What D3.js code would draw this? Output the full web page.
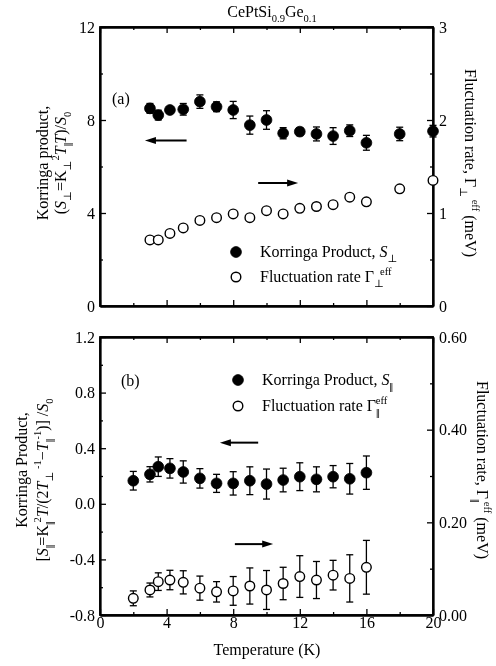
<!DOCTYPE html>
<html>
<head>
<meta charset="utf-8">
<script src="https://cdn.jsdelivr.net/npm/d3@7"></script>
<style>
  html, body { margin: 0; padding: 0; background: #fff; }
  svg { will-change: transform; -webkit-font-smoothing: antialiased; }
  svg text { font-family: "Liberation Serif", "DejaVu Serif", serif; fill: #000; }
</style>
</head>
<body>
<svg id="chart" width="496" height="666"></svg>
<script>
// Temperatures (K)
const tempA = [3, 3.5, 4.2, 5, 6, 7, 8, 9, 10, 11, 12, 13, 14, 15, 16, 18, 20];
const tempB = [2, 3, 3.5, 4.2, 5, 6, 7, 8, 9, 10, 11, 12, 13, 14, 15, 16];

// Panel (a): perpendicular Korringa product and fluctuation rate
const korringaPerp = [8.50, 8.21, 8.43, 8.46, 8.79, 8.57, 8.43, 7.78, 8.00, 7.43, 7.50, 7.40, 7.31, 7.54, 7.02, 7.40, 7.52];
const korringaPerpErr = [0.21, 0.21, 0.12, 0.25, 0.29, 0.21, 0.37, 0.39, 0.40, 0.24, 0.17, 0.30, 0.36, 0.25, 0.32, 0.29, 0.25];
const gammaPerp = [0.71, 0.71, 0.78, 0.84, 0.92, 0.95, 0.99, 0.95, 1.025, 0.99, 1.05, 1.07, 1.09, 1.17, 1.12, 1.26, 1.35];

// Panel (b): parallel Korringa product and fluctuation rate
const korringaPar = [0.166, 0.212, 0.267, 0.255, 0.229, 0.183, 0.147, 0.147, 0.166, 0.142, 0.171, 0.195, 0.176, 0.195, 0.180, 0.224];
const korringaParErr = [0.067, 0.055, 0.07, 0.07, 0.08, 0.07, 0.065, 0.084, 0.10, 0.108, 0.085, 0.10, 0.09, 0.08, 0.11, 0.12];
const gammaPar = [0.036, 0.054, 0.072, 0.0755, 0.0705, 0.058, 0.050, 0.052, 0.0626, 0.054, 0.068, 0.083, 0.0755, 0.086, 0.079, 0.103];
const gammaParErr = [0.016, 0.015, 0.019, 0.021, 0.025, 0.026, 0.022, 0.031, 0.039, 0.042, 0.035, 0.045, 0.040, 0.032, 0.051, 0.058];

// Tick values
const xMajor = [0, 4, 8, 12, 16, 20];
const xMinor = [2, 6, 10, 14, 18];
const yLeftA = [0, 4, 8, 12];
const yLeftAMinor = [2, 6, 10];
const yRightA = [0, 1, 2, 3];
const yRightAMinor = [0.5, 1.5, 2.5];
const yLeftB = [-0.8, -0.4, 0.0, 0.4, 0.8, 1.2];
const yLeftBMinor = [-0.6, -0.2, 0.2, 0.6, 1.0];
const yRightB = [0, 0.2, 0.4, 0.6];
const yRightBMinor = [0.1, 0.3, 0.5];

const svg = d3.select("#chart");
const left = 100, right = 433;
const x = d3.scaleLinear().domain([0, 20]).range([left, right]);

const topA = 27, botA = 306, topB = 337, botB = 615;
const yA = d3.scaleLinear().domain([0, 12]).range([botA, topA]);
const yA2 = d3.scaleLinear().domain([0, 3]).range([botA, topA]);
const yB = d3.scaleLinear().domain([-0.8, 1.2]).range([botB, topB]);
const yB2 = d3.scaleLinear().domain([0, 0.6]).range([botB, topB]);

const FS = 16;
const PAR = "||"; // parallel symbol

// Rich text helper: segments with italic / sub / sup styles
function rich(textSel, segs, size) {
  let cur = 0;
  segs.forEach(s => {
    const seg = typeof s === "string" ? { t: s } : s;
    let target = 0, fs = size;
    if (seg.sub) { target = size * 0.32; fs = size * 0.66; }
    if (seg.sup) { target = -size * 0.42; fs = size * 0.66; }
    const ts = textSel.append("tspan").text(seg.t).attr("font-size", fs);
    if (target !== cur) ts.attr("dy", target - cur);
    if (seg.i) ts.attr("font-style", "italic");
    if (seg.dx) ts.attr("dx", seg.dx);
    if (seg.t === PAR) ts.attr("letter-spacing", -1).attr("font-weight", "bold");
    cur = target;
  });
}

function drawAxes(yL, yR, leftMajor, leftMinor, rightMajor, rightMinor, fmtL, fmtR, top, bot, showX) {
  const g = svg.append("g");
  const maj = 6, min = 3;
  g.append("g").attr("transform", `translate(0,${bot})`)
    .call(d3.axisBottom(x).tickValues(xMajor).tickSizeInner(-maj).tickSizeOuter(0)
      .tickPadding(2).tickFormat(showX ? d3.format("d") : () => ""));
  g.append("g").attr("transform", `translate(0,${bot})`)
    .call(d3.axisBottom(x).tickValues(xMinor).tickSizeInner(-min).tickSizeOuter(0).tickFormat(() => ""));
  g.append("g").attr("transform", `translate(0,${top})`)
    .call(d3.axisTop(x).tickValues(xMajor).tickSizeInner(-maj).tickSizeOuter(0).tickFormat(() => ""));
  g.append("g").attr("transform", `translate(0,${top})`)
    .call(d3.axisTop(x).tickValues(xMinor).tickSizeInner(-min).tickSizeOuter(0).tickFormat(() => ""));
  g.append("g").attr("transform", `translate(${left},0)`)
    .call(d3.axisLeft(yL).tickValues(leftMajor).tickSizeInner(-maj).tickSizeOuter(0)
      .tickPadding(5).tickFormat(fmtL));
  g.append("g").attr("transform", `translate(${left},0)`)
    .call(d3.axisLeft(yL).tickValues(leftMinor).tickSizeInner(-min).tickSizeOuter(0).tickFormat(() => ""));
  g.append("g").attr("transform", `translate(${right},0)`)
    .call(d3.axisRight(yR).tickValues(rightMajor).tickSizeInner(-maj).tickSizeOuter(0)
      .tickPadding(6).tickFormat(fmtR));
  g.append("g").attr("transform", `translate(${right},0)`)
    .call(d3.axisRight(yR).tickValues(rightMinor).tickSizeInner(-min).tickSizeOuter(0).tickFormat(() => ""));

  g.selectAll(".domain").attr("stroke", "#000").attr("stroke-width", 1.8);
  g.selectAll(".tick line").attr("stroke", "#000").attr("stroke-width", 1.3);
  g.selectAll(".tick text").attr("font-family", "Liberation Serif, serif").attr("font-size", FS).attr("fill", "#000");
  svg.append("rect").attr("x", left).attr("y", top).attr("width", right - left).attr("height", bot - top)
    .attr("fill", "none").attr("stroke", "#000").attr("stroke-width", 1.8);
}

drawAxes(yA, yA2, yLeftA, yLeftAMinor, yRightA, yRightAMinor, d3.format("d"), d3.format("d"), topA, botA, false);
drawAxes(yB, yB2, yLeftB, yLeftBMinor, yRightB, yRightBMinor, d => d3.format(".1f")(d).replace("−", "-"), d3.format(".2f"), topB, botB, true);

// Error bars
function errorBars(xs, ys, errs, yS) {
  const cap = 3.5;
  const g = svg.append("g").attr("stroke", "#000").attr("stroke-width", 1.3);
  xs.forEach((t, i) => {
    const cx = x(t), y1 = yS(ys[i] - errs[i]), y2 = yS(ys[i] + errs[i]);
    g.append("line").attr("x1", cx).attr("x2", cx).attr("y1", y1).attr("y2", y2);
    g.append("line").attr("x1", cx - cap).attr("x2", cx + cap).attr("y1", y1).attr("y2", y1);
    g.append("line").attr("x1", cx - cap).attr("x2", cx + cap).attr("y1", y2).attr("y2", y2);
  });
}
function points(xs, ys, yS, filled) {
  svg.append("g").selectAll("circle").data(xs).join("circle")
    .attr("cx", d => x(d)).attr("cy", (d, i) => yS(ys[i]))
    .attr("r", filled ? 5.4 : 4.8)
    .attr("fill", filled ? "#000" : "#fff")
    .attr("stroke", "#000").attr("stroke-width", filled ? 0.8 : 1.4);
}

// Panel (a)
errorBars(tempA, korringaPerp, korringaPerpErr, yA);
points(tempA, korringaPerp, yA, true);
points(tempA, gammaPerp, yA2, false);

// Panel (b)
errorBars(tempB, korringaPar, korringaParErr, yB);
points(tempB, korringaPar, yB, true);
errorBars(tempB, gammaPar, gammaParErr, yB2);
points(tempB, gammaPar, yB2, false);

// Arrows pointing at the axis each series belongs to
function arrow(x1, x2, y) {
  const dir = Math.sign(x2 - x1);
  svg.append("line").attr("x1", x1).attr("x2", x2 - dir * 8).attr("y1", y).attr("y2", y)
    .attr("stroke", "#000").attr("stroke-width", 2);
  svg.append("path")
    .attr("d", `M${x2},${y} L${x2 - dir * 11},${y - 3.5} L${x2 - dir * 11},${y + 3.5} Z`)
    .attr("fill", "#000");
}
arrow(x(5.2), x(2.7), yA(7.12));
arrow(x(9.5), x(11.9), yA(5.29));
arrow(x(9.5), x(7.2), yB(0.44));
arrow(x(8.1), x(10.4), yB2(0.153));

// Panel letters
svg.append("text").attr("x", 112).attr("y", 104).attr("font-size", FS).text("(a)");
svg.append("text").attr("x", 121).attr("y", 386).attr("font-size", FS).text("(b)");

// Legends
function legend(lx, ly, sym, segs) {
  svg.append("circle").attr("cx", lx).attr("cy", ly).attr("r", sym ? 5.4 : 4.8)
    .attr("fill", sym ? "#000" : "#fff").attr("stroke", "#000").attr("stroke-width", sym ? 0.8 : 1.4);
  const t = svg.append("text").attr("x", lx + 24).attr("y", ly + 5).attr("font-size", FS);
  rich(t, segs, FS);
}
legend(236, 252, true, ["Korringa Product, ", { t: "S", i: true }, { t: "⊥", sub: true }]);
legend(236, 277, false, ["Fluctuation rate Γ", { t: "⊥", sub: true }, { t: "eff", sup: true, dx: -4 }]);
legend(238, 380, true, ["Korringa Product, ", { t: "S", i: true }, { t: PAR, sub: true }]);
legend(238, 406, false, ["Fluctuation rate Γ", { t: PAR, sub: true }, { t: "eff", sup: true, dx: -3 }]);

// Title
const title = svg.append("text").attr("x", 272).attr("y", 17).attr("text-anchor", "middle").attr("font-size", FS);
rich(title, ["CePtSi", { t: "0.9", sub: true }, "Ge", { t: "0.1", sub: true }], FS);

// Axis titles
function vLabel(cx, cy, rot, segs) {
  const t = svg.append("text").attr("text-anchor", "middle").attr("font-size", FS)
    .attr("transform", `translate(${cx},${cy}) rotate(${rot})`);
  rich(t, segs, FS);
}
vLabel(48, 163, -90, ["Korringa product,"]);
vLabel(66, 163, -90, ["(", { t: "S", i: true }, { t: "⊥", sub: true }, "=K", { t: "⊥", sub: true },
  { t: "2", sup: true }, { t: "T", i: true }, { t: PAR, sub: true }, { t: "T", i: true }, ")/", { t: "S", i: true }, { t: "0", sub: true }]);
vLabel(465, 163, 90, ["Fluctuation rate, Γ", { t: "⊥", sub: true }, { t: " eff", sup: true }, " (meV)"]);

vLabel(27, 470, -90, ["Korringa Product,"]);
vLabel(48, 480, -90, ["[", { t: "S", i: true }, { t: PAR, sub: true }, "=K", { t: PAR, sub: true },
  { t: "2", sup: true }, { t: "T", i: true }, "/(2", { t: "T", i: true }, { t: "⊥", sub: true }, { t: " -1", sup: true },
  "−", { t: "T", i: true }, { t: PAR, sub: true }, { t: "-1", sup: true }, ")] /", { t: "S", i: true }, { t: "0", sub: true }]);
vLabel(477, 470, 90, ["Fluctuation rate, Γ", { t: PAR, sub: true }, { t: "eff", sup: true }, " (meV)"]);

svg.append("text").attr("x", 267).attr("y", 655).attr("text-anchor", "middle").attr("font-size", FS)
  .text("Temperature (K)");
</script>
</body>
</html>
